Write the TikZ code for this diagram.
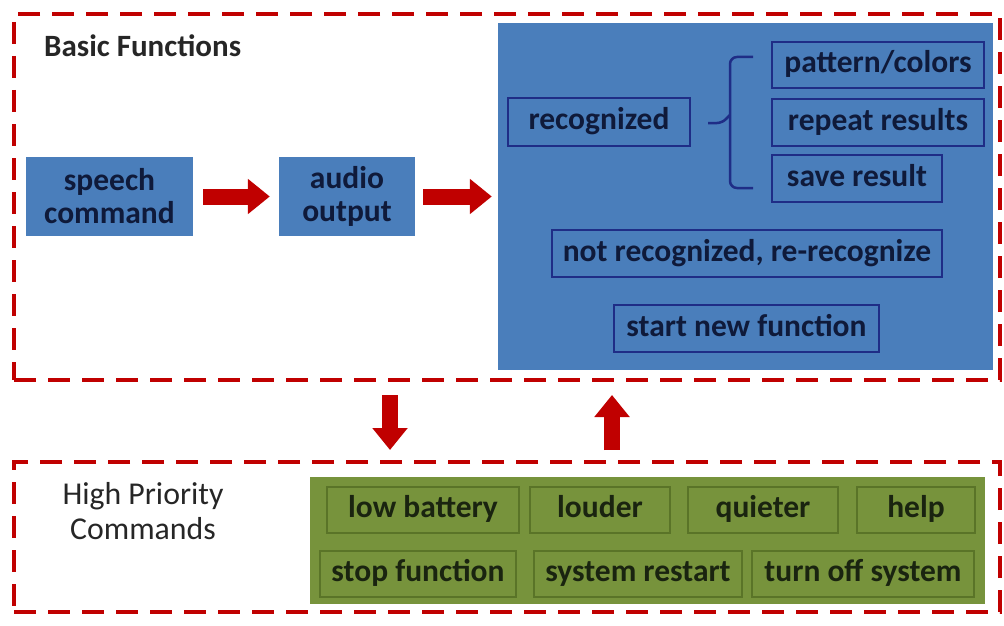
\documentclass[tikz,border=0pt]{standalone}
\usepackage{fontspec}
\setmainfont{Carlito}
\usetikzlibrary{arrows.meta}
\definecolor{redd}{HTML}{C00000}
\definecolor{bluef}{HTML}{4A7EBB}
\definecolor{navy}{HTML}{1F2D86}
\definecolor{txtb}{HTML}{0F1A3A}
\definecolor{greenf}{HTML}{77933C}
\definecolor{greend}{HTML}{5A7428}
\definecolor{txtg}{HTML}{1A2410}
\tikzset{
  dashbox/.style={draw=redd, line width=4pt, dash pattern=on 22pt off 12pt, rectangle, inner sep=0pt},
  bluebox/.style={fill=bluef, draw=none, rectangle, inner sep=0pt, text=txtb, align=center,
     font=\fontsize{31.5}{33}\selectfont\bfseries},
  innerb/.style={draw=navy, line width=2.8pt, fill=bluef, rectangle, inner sep=0pt, text=txtb,
     text height=21pt, text depth=6pt, font=\fontsize{31.5}{33}\selectfont\bfseries},
  greenbox/.style={fill=greenf, draw=none, rectangle, inner sep=0pt},
  innerg/.style={draw=greend, line width=2pt, fill=greenf, rectangle, inner sep=0pt, text=txtg,
     text height=21pt, text depth=6pt, font=\fontsize{31.5}{33}\selectfont\bfseries},
  fat/.style={draw=redd, line width=16pt, -{Triangle[width=34pt,length=22pt]}},
  title/.style={inner sep=0pt, text=black!85, align=center},
}
\begin{document}
\begin{tikzpicture}[x=1pt,y=-1pt]
\useasboundingbox (0,0) rectangle (1004,626);
% dashed frames
\node[dashbox, minimum width=986pt, minimum height=366pt] (basic) at (507,197) {};
\node[dashbox, minimum width=986pt, minimum height=150pt] (high) at (507,537) {};
\node[title, anchor=base west, font=\fontsize{31}{34}\selectfont\bfseries] (bftitle) at (44,57) {Basic Functions};
\node[title, font=\fontsize{31.8}{35}\selectfont] (hptitle) at (143,511) {High Priority\\Commands};
% left boxes
\node[bluebox, minimum width=167pt, minimum height=79pt] (speech) at (109.5,196.5) {speech\\command};
\node[bluebox, minimum width=136pt, minimum height=79pt] (audio) at (347,196.5) {audio\\output};
% big blue
\node[bluebox, minimum width=495pt, minimum height=347pt] (big) at (745.5,196.5) {};
\node[innerb, minimum width=182pt, minimum height=48pt] (rec) at (599,122) {recognized};
\node[innerb, minimum width=212pt, minimum height=46pt] (pat) at (878,65) {pattern/colors};
\node[innerb, minimum width=212pt, minimum height=47pt] (rep) at (878,122.5) {repeat results};
\node[innerb, minimum width=170pt, minimum height=47pt] (sav) at (857,178.5) {save result};
\node[innerb, minimum width=390pt, minimum height=47pt] (notr) at (747,253.5) {not recognized, re-recognize};
\node[innerb, minimum width=265pt, minimum height=47pt] (start) at (746.5,328.5) {start new function};
% brace
\coordinate (bt) at (753,57);
\coordinate (bb) at (753,188);
\coordinate (bm) at (708,123);
\draw[navy, line width=2.5pt, rounded corners=7pt] (bt) -- (730,57) -- (730,188) -- (bb);
\draw[navy, line width=2.5pt, rounded corners=5pt] (bm) -- (722,123) -- (730,115);
% green
\node[greenbox, minimum width=675pt, minimum height=127pt] (green) at (647.5,540.5) {};
\node[innerg, minimum width=192pt, minimum height=46pt] (lowb) at (423,510) {low battery};
\node[innerg, minimum width=140pt, minimum height=46pt] (loud) at (600,510) {louder};
\node[innerg, minimum width=150pt, minimum height=46pt] (quiet) at (763,510) {quieter};
\node[innerg, minimum width=118pt, minimum height=46pt] (help) at (916,510) {help};
\node[innerg, minimum width=196pt, minimum height=46pt] (stopf) at (418,574) {stop function};
\node[innerg, minimum width=208pt, minimum height=46pt] (restart) at (638,574) {system restart};
\node[innerg, minimum width=222pt, minimum height=46pt] (turnoff) at (863,574) {turn off system};
% arrows
\draw[fat, shorten <=10pt, shorten >=9pt] (speech.east) -- (audio.west);
\draw[fat, shorten <=8pt, shorten >=6pt] (audio.east) -- (big.west);
\coordinate (dtop) at (basic.south -| 390,0);
\coordinate (dbot) at (high.north -| 390,0);
\coordinate (utop) at (basic.south -| 612,0);
\coordinate (ubot) at (high.north -| 612,0);
\draw[fat, shorten <=13pt, shorten >=10pt] (dtop) -- (dbot);
\draw[fat, shorten <=10pt, shorten >=13pt] (ubot) -- (utop);
\end{tikzpicture}
\end{document}
